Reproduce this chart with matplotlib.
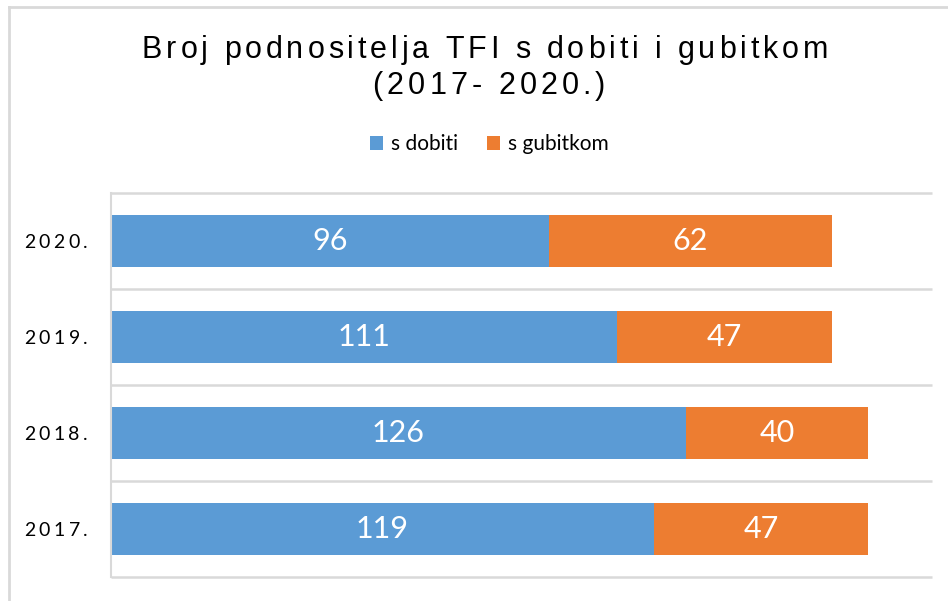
import numpy as np
import matplotlib
matplotlib.use("Agg")
import matplotlib.pyplot as plt
from matplotlib.patches import Patch
from matplotlib.lines import Line2D
from matplotlib.font_manager import FontProperties

# ---- data ----
years = ["2017.", "2018.", "2019.", "2020."]
s_dobiti = [119, 126, 111, 96]
s_gubitkom = [47, 40, 47, 62]
series_names = ["s dobiti", "s gubitkom"]
title_lines = ["Broj podnositelja TFI s dobiti i gubitkom", "(2017- 2020.)"]

BLUE = "#5B9BD5"
ORANGE = "#ED7D31"
GRID = "#D9D9D9"

W, H = 948, 601
fig = plt.figure(figsize=(W / 100, H / 100), dpi=100)
ax = fig.add_axes([111 / W, 24 / H, (932 - 111) / W, (577 - 193) / H])

y = np.arange(len(years))
bh = 0.55
b1 = ax.barh(y, s_dobiti, height=bh, color=BLUE, edgecolor="none")
b2 = ax.barh(y, s_gubitkom, left=s_dobiti, height=bh, color=ORANGE, edgecolor="none")

for bars in (b1, b2):
    ax.bar_label(bars, label_type="center", color="white", fontsize=22,
                 family=["Lato", "DejaVu Sans"])

ax.set_xlim(0, 180)
ax.set_ylim(-0.5, len(years) - 0.5)
ax.set_xticks([])
ax.set_yticks([])
for s in ["top", "right", "bottom"]:
    ax.spines[s].set_visible(False)
ax.spines["left"].set_color(GRID)
ax.spines["left"].set_linewidth(1.5)
ax.hlines(np.arange(-0.5, len(years)), 0, 180, colors=GRID, linewidth=1.8,
          clip_on=False, zorder=0)

# chart area border
fig.add_artist(Line2D([9 / W, 1.0], [1 - 7 / H, 1 - 7 / H], color=GRID, linewidth=2,
                      transform=fig.transFigure))
fig.add_artist(Line2D([9 / W, 9 / W], [0, 1 - 7 / H], color=GRID, linewidth=2,
                      transform=fig.transFigure))

renderer = fig.canvas.get_renderer()


def text_width(s, fp):
    w, _, _ = renderer.get_text_width_height_descent(s + "|", fp, ismath=False)
    w0, _, _ = renderer.get_text_width_height_descent("|", fp, ismath=False)
    return w - w0


def spaced_text(s, xpx, ypx, fp, spacing, ha="center", va="baseline", color="black"):
    total = text_width(s, fp) + spacing * (len(s) - 1)
    if ha == "center":
        x0 = xpx - total / 2
    elif ha == "right":
        x0 = xpx - total
    else:
        x0 = xpx
    for i, ch in enumerate(s):
        if ch == " ":
            continue
        xi = x0 + text_width(s[:i], fp) + spacing * i
        fig.text(xi / W, 1 - ypx / H, ch, fontproperties=fp, ha="left", va=va, color=color)


title_fp = FontProperties(family="Liberation Sans", size=22)
spaced_text(title_lines[0], 485, 58, title_fp, 3.9)
spaced_text(title_lines[1], 489, 94, title_fp, 4.1)

tick_fp = FontProperties(family="Lato", size=14)
for yi, lab in zip(y, years):
    ypix = ax.transData.transform((0, yi))[1]
    spaced_text(lab, 88, H - ypix, tick_fp, 3.6, ha="right", va="center_baseline")

handles = [Patch(facecolor=BLUE, edgecolor="none"), Patch(facecolor=ORANGE, edgecolor="none")]
fig.legend(handles, series_names, loc="center", bbox_to_anchor=(489 / W, 1 - 144 / H),
           ncol=2, frameon=False, prop=FontProperties(family="Lato", size=15),
           handlelength=0.65, handleheight=0.65, handletextpad=0.35, columnspacing=1.4)

fig.savefig("out.png", dpi=100, facecolor="white")
